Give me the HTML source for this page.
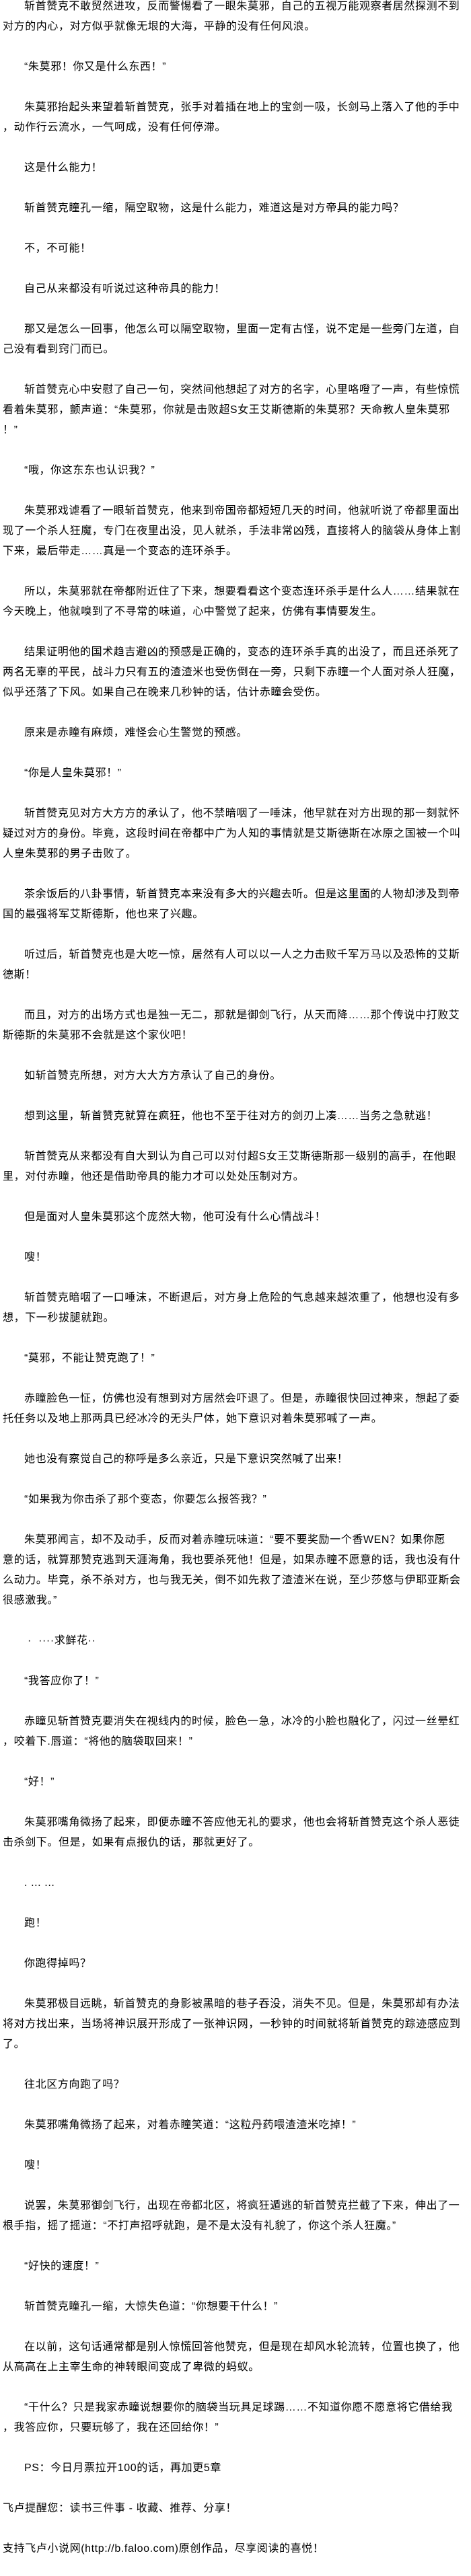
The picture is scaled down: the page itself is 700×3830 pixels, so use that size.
<!DOCTYPE html>
<html><head><meta charset="utf-8">
<style>
html,body{margin:0;padding:0;background:#fff;}
body{width:700px;height:3830px;overflow:hidden;position:relative;}
#c{position:absolute;top:-5px;left:0;width:700px;font-family:"Liberation Sans","Noto Sans CJK SC",sans-serif;font-size:16px;letter-spacing:0.6px;color:#000;}
#c div{height:30px;line-height:30px;white-space:pre;padding-left:4px;}
#c div.i{padding-left:36px;}
</style></head><body><div id="c">
<div class="i">斩首赞克不敢贸然进攻，反而警惕看了一眼朱莫邪，自己的五视万能观察者居然探测不到</div>
<div>对方的内心，对方似乎就像无垠的大海，平静的没有任何风浪。</div>
<div></div>
<div class="i">“朱莫邪！你又是什么东西！”</div>
<div></div>
<div class="i">朱莫邪抬起头来望着斩首赞克，张手对着插在地上的宝剑一吸，长剑马上落入了他的手中</div>
<div>，动作行云流水，一气呵成，没有任何停滞。</div>
<div></div>
<div class="i">这是什么能力！</div>
<div></div>
<div class="i">斩首赞克瞳孔一缩，隔空取物，这是什么能力，难道这是对方帝具的能力吗？</div>
<div></div>
<div class="i">不，不可能！</div>
<div></div>
<div class="i">自己从来都没有听说过这种帝具的能力！</div>
<div></div>
<div class="i">那又是怎么一回事，他怎么可以隔空取物，里面一定有古怪，说不定是一些旁门左道，自</div>
<div>己没有看到窍门而已。</div>
<div></div>
<div class="i">斩首赞克心中安慰了自己一句，突然间他想起了对方的名字，心里咯噔了一声，有些惊慌</div>
<div>看着朱莫邪，颤声道：“朱莫邪，你就是击败超S女王艾斯德斯的朱莫邪？天命教人皇朱莫邪</div>
<div>！”</div>
<div></div>
<div class="i">“哦，你这东东也认识我？”</div>
<div></div>
<div class="i">朱莫邪戏谑看了一眼斩首赞克，他来到帝国帝都短短几天的时间，他就听说了帝都里面出</div>
<div>现了一个杀人狂魔，专门在夜里出没，见人就杀，手法非常凶残，直接将人的脑袋从身体上割</div>
<div>下来，最后带走……真是一个变态的连环杀手。</div>
<div></div>
<div class="i">所以，朱莫邪就在帝都附近住了下来，想要看看这个变态连环杀手是什么人……结果就在</div>
<div>今天晚上，他就嗅到了不寻常的味道，心中警觉了起来，仿佛有事情要发生。</div>
<div></div>
<div class="i">结果证明他的国术趋吉避凶的预感是正确的，变态的连环杀手真的出没了，而且还杀死了</div>
<div>两名无辜的平民，战斗力只有五的渣渣米也受伤倒在一旁，只剩下赤瞳一个人面对杀人狂魔，</div>
<div>似乎还落了下风。如果自己在晚来几秒钟的话，估计赤瞳会受伤。</div>
<div></div>
<div class="i">原来是赤瞳有麻烦，难怪会心生警觉的预感。</div>
<div></div>
<div class="i">“你是人皇朱莫邪！”</div>
<div></div>
<div class="i">斩首赞克见对方大方方的承认了，他不禁暗咽了一唾沫，他早就在对方出现的那一刻就怀</div>
<div>疑过对方的身份。毕竟，这段时间在帝都中广为人知的事情就是艾斯德斯在冰原之国被一个叫</div>
<div>人皇朱莫邪的男子击败了。</div>
<div></div>
<div class="i">茶余饭后的八卦事情，斩首赞克本来没有多大的兴趣去听。但是这里面的人物却涉及到帝</div>
<div>国的最强将军艾斯德斯，他也来了兴趣。</div>
<div></div>
<div class="i">听过后，斩首赞克也是大吃一惊，居然有人可以以一人之力击败千军万马以及恐怖的艾斯</div>
<div>德斯！</div>
<div></div>
<div class="i">而且，对方的出场方式也是独一无二，那就是御剑飞行，从天而降……那个传说中打败艾</div>
<div>斯德斯的朱莫邪不会就是这个家伙吧！</div>
<div></div>
<div class="i">如斩首赞克所想，对方大大方方承认了自己的身份。</div>
<div></div>
<div class="i">想到这里，斩首赞克就算在疯狂，他也不至于往对方的剑刃上凑……当务之急就逃！</div>
<div></div>
<div class="i">斩首赞克从来都没有自大到认为自己可以对付超S女王艾斯德斯那一级别的高手，在他眼</div>
<div>里，对付赤瞳，他还是借助帝具的能力才可以处处压制对方。</div>
<div></div>
<div class="i">但是面对人皇朱莫邪这个庞然大物，他可没有什么心情战斗！</div>
<div></div>
<div class="i">嗖！</div>
<div></div>
<div class="i">斩首赞克暗咽了一口唾沫，不断退后，对方身上危险的气息越来越浓重了，他想也没有多</div>
<div>想，下一秒拔腿就跑。</div>
<div></div>
<div class="i">“莫邪，不能让赞克跑了！”</div>
<div></div>
<div class="i">赤瞳脸色一怔，仿佛也没有想到对方居然会吓退了。但是，赤瞳很快回过神来，想起了委</div>
<div>托任务以及地上那两具已经冰冷的无头尸体，她下意识对着朱莫邪喊了一声。</div>
<div></div>
<div class="i">她也没有察觉自己的称呼是多么亲近，只是下意识突然喊了出来！</div>
<div></div>
<div class="i">“如果我为你击杀了那个变态，你要怎么报答我？”</div>
<div></div>
<div class="i">朱莫邪闻言，却不及动手，反而对着赤瞳玩味道：“要不要奖励一个香WEN？如果你愿</div>
<div>意的话，就算那赞克逃到天涯海角，我也要杀死他！但是，如果赤瞳不愿意的话，我也没有什</div>
<div>么动力。毕竟，杀不杀对方，也与我无关，倒不如先救了渣渣米在说，至少莎悠与伊耶亚斯会</div>
<div>很感激我。”</div>
<div></div>
<div class="i"> ·  ····求鲜花··</div>
<div></div>
<div class="i">“我答应你了！”</div>
<div></div>
<div class="i">赤瞳见斩首赞克要消失在视线内的时候，脸色一急，冰冷的小脸也融化了，闪过一丝晕红</div>
<div>，咬着下.唇道：“将他的脑袋取回来！”</div>
<div></div>
<div class="i">“好！”</div>
<div></div>
<div class="i">朱莫邪嘴角微扬了起来，即便赤瞳不答应他无礼的要求，他也会将斩首赞克这个杀人恶徒</div>
<div>击杀剑下。但是，如果有点报仇的话，那就更好了。</div>
<div></div>
<div class="i">. ... ...</div>
<div></div>
<div class="i">跑！</div>
<div></div>
<div class="i">你跑得掉吗？</div>
<div></div>
<div class="i">朱莫邪极目远眺，斩首赞克的身影被黑暗的巷子吞没，消失不见。但是，朱莫邪却有办法</div>
<div>将对方找出来，当场将神识展开形成了一张神识网，一秒钟的时间就将斩首赞克的踪迹感应到</div>
<div>了。</div>
<div></div>
<div class="i">往北区方向跑了吗？</div>
<div></div>
<div class="i">朱莫邪嘴角微扬了起来，对着赤瞳笑道：“这粒丹药喂渣渣米吃掉！”</div>
<div></div>
<div class="i">嗖！</div>
<div></div>
<div class="i">说罢，朱莫邪御剑飞行，出现在帝都北区，将疯狂遁逃的斩首赞克拦截了下来，伸出了一</div>
<div>根手指，摇了摇道：“不打声招呼就跑，是不是太没有礼貌了，你这个杀人狂魔。”</div>
<div></div>
<div class="i">“好快的速度！”</div>
<div></div>
<div class="i">斩首赞克瞳孔一缩，大惊失色道：“你想要干什么！”</div>
<div></div>
<div class="i">在以前，这句话通常都是别人惊慌回答他赞克，但是现在却风水轮流转，位置也换了，他</div>
<div>从高高在上主宰生命的神转眼间变成了卑微的蚂蚁。</div>
<div></div>
<div class="i">“干什么？只是我家赤瞳说想要你的脑袋当玩具足球踢……不知道你愿不愿意将它借给我</div>
<div>，我答应你，只要玩够了，我在还回给你！”</div>
<div></div>
<div class="i">PS：今日月票拉开100的话，再加更5章</div>
<div></div>
<div>飞卢提醒您：读书三件事 - 收藏、推荐、分享！</div>
<div></div>
<div>支持飞卢小说网(http://b.faloo.com)原创作品，尽享阅读的喜悦！</div>
</div></body></html>
